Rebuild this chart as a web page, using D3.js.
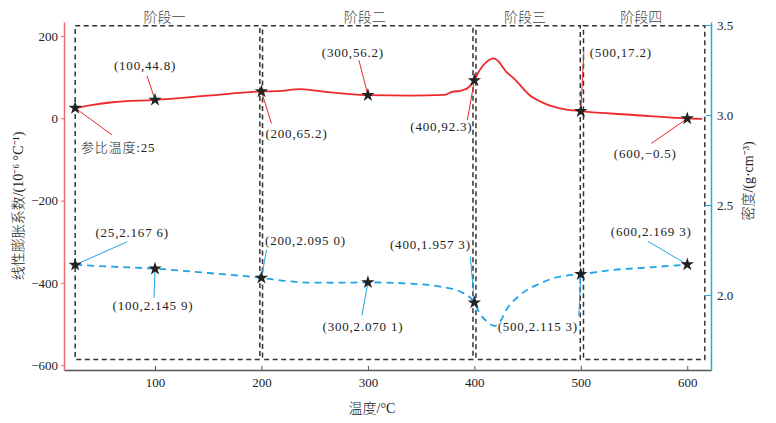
<!DOCTYPE html>
<html>
  <head>
    <meta charset="UTF-8" />
    <script src="https://d3js.org/d3.v7.min.js"></script>
    <style>
      body { margin: 0; background: #fff; }
      text { font-family: "Liberation Serif", "Noto Sans CJK SC", serif; fill: #222; }
      .cjk { font-weight: 300; }
    </style>
  </head>
  <body>
    <div id="my_dataviz"></div>

    <script>
      // ---- data ----
      const stageNames = ["阶段一", "阶段二", "阶段三", "阶段四"];
      const stageStart = [25, 201, 401.5, 502.5];
      const stageEnd = [198.5, 398.7, 499.5, 616.5];

      // red curve: linear expansion coefficient (left axis)
      const cteTemp = [25, 40, 60, 100, 150, 200, 215, 237, 260, 300, 340, 372, 379, 388, 395, 400, 405, 411.5, 418, 421, 430, 437, 452, 468, 483, 500, 550, 600, 614];
      const cteValue = [25, 32, 39, 44.8, 55, 65.2, 66, 71, 64, 56.2, 55, 57, 64, 67.5, 76, 92.3, 117, 137, 145.5, 142, 113, 97, 56, 34, 23, 17.2, 8, -0.5, -1.5];

      // blue curve: density (right axis)
      const denTemp = [25, 60, 100, 150, 200, 222, 245, 270, 300, 340, 368, 387, 400, 405, 412, 419, 425, 430, 443, 462, 480, 500, 530, 562, 600];
      const denValue = [2.1676, 2.157, 2.1459, 2.122, 2.095, 2.078, 2.069, 2.068, 2.0701, 2.063, 2.046, 2.018, 1.9573, 1.898, 1.852, 1.828, 1.86, 1.917, 2.0, 2.065, 2.102, 2.1153, 2.139, 2.152, 2.1693];

      // marked points and their labels
      const markTemp = [25, 100, 200, 300, 400, 500, 600];
      const cteMark = [25, 44.8, 65.2, 56.2, 92.3, 17.2, -0.5];
      const cteLabels = ["参比温度:25", "(100,44.8)", "(200,65.2)", "(300,56.2)", "(400,92.3)", "(500,17.2)", "(600,−0.5)"];
      const denMark = [2.1676, 2.1459, 2.095, 2.0701, 1.9573, 2.1153, 2.1693];
      const denLabels = ["(25,2.167 6)", "(100,2.145 9)", "(200,2.095 0)", "(300,2.070 1)", "(400,1.957 3)", "(500,2.115 3)", "(600,2.169 3)"];

      const xTicks = [100, 200, 300, 400, 500, 600];
      const yLeftTicks = [-600, -400, -200, 0, 200];
      const yRightTicks = [2.0, 2.5, 3.0, 3.5];

      // ---- layout ----
      var width = 776, height = 423;
      var red = "#f0282d", redAxis = "#f26a6e", blue = "#1ea4e6", blueAxis = "#2aa8e2";

      var svg = d3
        .select("#my_dataviz")
        .append("svg")
        .attr("width", width)
        .attr("height", height);

      var x = d3.scaleLinear().domain([14.5, 622.3]).range([64, 711]);
      var yL = d3.scaleLinear().domain([-611.7, 234]).range([370, 22]);
      var yR = d3.scaleLinear().domain([1.583, 3.517]).range([370, 22]);

      // stage boxes
      var boxTop = 225, boxBottom = -586;
      svg.append("g")
        .selectAll("rect")
        .data(stageNames)
        .join("rect")
        .attr("x", (d, i) => x(stageStart[i]))
        .attr("y", yL(boxTop))
        .attr("width", (d, i) => x(stageEnd[i]) - x(stageStart[i]))
        .attr("height", yL(boxBottom) - yL(boxTop))
        .attr("fill", "none")
        .attr("stroke", "#333")
        .attr("stroke-width", 1.5)
        .attr("stroke-dasharray", "5,3.5");

      svg.append("g")
        .selectAll("text")
        .data(stageNames)
        .join("text")
        .attr("class", "cjk")
        .attr("x", (d, i) => (x(stageStart[i]) + x(stageEnd[i])) / 2 - 3)
        .attr("y", 22)
        .attr("text-anchor", "middle")
        .style("font-size", "14px")
        .style("fill", "#444")
        .text(d => d);

      // axes
      var xAxis = svg.append("g")
        .attr("transform", "translate(0,370)")
        .call(d3.axisBottom(x).tickValues(xTicks).tickSize(-4).tickSizeOuter(0).tickPadding(8));
      xAxis.select(".domain").attr("stroke", "#555").attr("stroke-width", 1.5);
      xAxis.selectAll(".tick line").attr("stroke", "#555");
      xAxis.selectAll("text").style("font-size", "13px").style("fill", "#222");

      var yLAxis = svg.append("g")
        .attr("transform", "translate(64,0)")
        .call(d3.axisLeft(yL).tickValues(yLeftTicks).tickSize(3).tickSizeOuter(0).tickPadding(3));
      yLAxis.select(".domain").attr("stroke", redAxis).attr("stroke-width", 1.5);
      yLAxis.selectAll(".tick line").attr("stroke", redAxis);
      yLAxis.selectAll("text").style("font-size", "13px").style("fill", "#222");

      var yRAxis = svg.append("g")
        .attr("transform", "translate(711,0)")
        .call(d3.axisRight(yR).tickValues(yRightTicks).tickFormat(d3.format(".1f")).tickSize(-5).tickSizeOuter(0).tickPadding(6));
      yRAxis.select(".domain").attr("stroke", blueAxis).attr("stroke-width", 1.5);
      yRAxis.selectAll(".tick line").attr("stroke", blueAxis);
      yRAxis.selectAll("text").style("font-size", "13px").style("fill", "#222");

      // axis titles
      svg.append("text")
        .attr("class", "cjk")
        .attr("transform", "translate(23,206) rotate(-90)")
        .attr("text-anchor", "middle")
        .style("font-size", "14px")
        .text("线性膨胀系数/(10⁻⁶ °C⁻¹)");
      svg.append("text")
        .attr("class", "cjk")
        .attr("transform", "translate(753,181) rotate(-90)")
        .attr("text-anchor", "middle")
        .style("font-size", "14px")
        .text("密度/(g·cm⁻³)");
      svg.append("text")
        .attr("class", "cjk")
        .attr("x", 372)
        .attr("y", 413)
        .attr("text-anchor", "middle")
        .style("font-size", "14px")
        .text("温度/°C");

      // curves
      var cteLine = d3.line()
        .x((d, i) => x(cteTemp[i]))
        .y(d => yL(d))
        .curve(d3.curveMonotoneX);
      svg.append("path")
        .attr("d", cteLine(cteValue))
        .attr("fill", "none")
        .attr("stroke", red)
        .attr("stroke-width", 1.8);

      var denLine = d3.line()
        .x((d, i) => x(denTemp[i]))
        .y(d => yR(d))
        .curve(d3.curveMonotoneX);
      svg.append("path")
        .attr("d", denLine(denValue))
        .attr("fill", "none")
        .attr("stroke", blue)
        .attr("stroke-width", 1.8)
        .attr("stroke-dasharray", "7,5");

      // annotation offsets from each star: [textDx, textDy, leaderDx, leaderDy]
      var cteOff = [[43, 39, 37, 27], [-10, -34, -8, -24], [35, 42, 10, 32], [-15, -43, -9, -35],
                    [-33, 46, -7, 40], [40, -59, 3, -59], [-42, 35, -36, 25]];
      var denOff = [[57, -32, 52, -23], [-2, 37, -1, 29], [44, -37, 5, -28], [-5, 44, -6, 33],
                    [-44, -58, -4, -46], [-43, 52, -2, 42], [-36, -33, -39, -23]];

      function annotate(values, scale, labels, offs, color) {
        var g = svg.append("g");
        g.selectAll("line")
          .data(values)
          .join("line")
          .attr("x1", (d, i) => x(markTemp[i]))
          .attr("y1", d => scale(d))
          .attr("x2", (d, i) => x(markTemp[i]) + offs[i][2])
          .attr("y2", (d, i) => scale(d) + offs[i][3])
          .attr("stroke", color)
          .attr("stroke-width", 1);
        g.selectAll("path")
          .data(values)
          .join("path")
          .attr("d", d3.symbol(d3.symbolStar, 56))
          .attr("transform", (d, i) => "translate(" + x(markTemp[i]) + "," + scale(d) + ")")
          .attr("fill", "#222");
        g.selectAll("text")
          .data(values)
          .join("text")
          .attr("class", "cjk")
          .attr("x", (d, i) => x(markTemp[i]) + offs[i][0])
          .attr("y", (d, i) => scale(d) + offs[i][1])
          .attr("dy", "0.35em")
          .attr("text-anchor", "middle")
          .style("font-size", "13px")
          .style("letter-spacing", "0.8px")
          .text((d, i) => labels[i]);
      }

      annotate(cteMark, yL, cteLabels, cteOff, red);
      annotate(denMark, yR, denLabels, denOff, blue);
    </script>
  </body>
</html>
